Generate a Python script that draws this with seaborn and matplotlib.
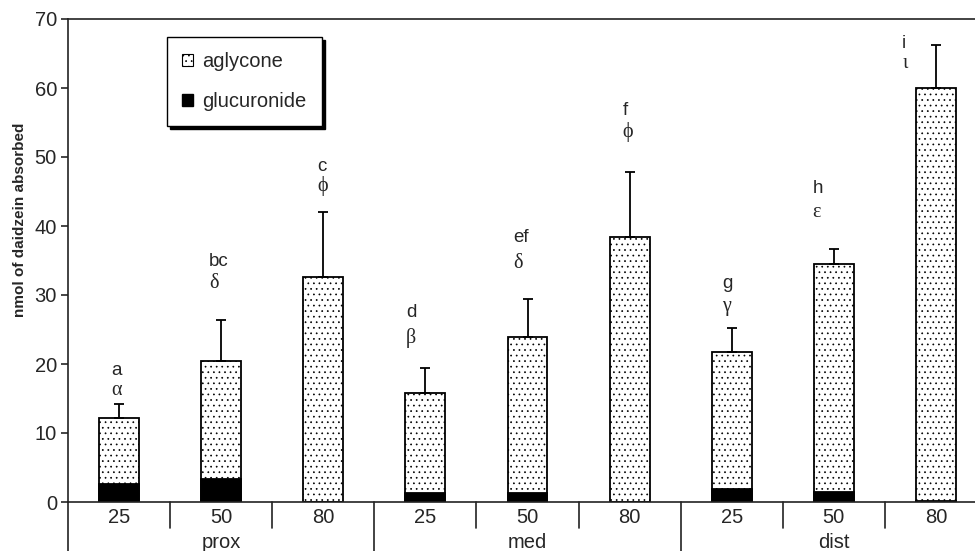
import numpy as np
import pandas as pd
import seaborn as sns
import matplotlib.pyplot as plt
from matplotlib.patches import Patch
from matplotlib.transforms import blended_transform_factory

# values
segments = ["prox", "med", "dist"]
doses = ["25", "50", "80"]
aglycone = [9.6, 17.1, 32.6, 14.5, 22.6, 38.4, 19.8, 33.1, 59.8]
glucuronide = [2.6, 3.3, 0.0, 1.3, 1.3, 0.0, 1.9, 1.4, 0.2]
sd = [2.0, 6.0, 9.4, 3.6, 5.5, 9.4, 3.5, 2.2, 6.2]
letters = ["a", "bc", "c", "d", "ef", "f", "g", "h", "i"]
greek = ["α", "δ", "ϕ", "β", "δ", "ϕ", "γ", "ε", "ι"]
letter_y = [19.1, 34.9, 48.6, 27.4, 38.4, 56.8, 31.7, 45.5, 66.5]
greek_y = [16.2, 31.7, 45.8, 23.8, 34.6, 53.6, 28.3, 41.9, 63.6]
label_dx = [-0.08, -0.12, -0.06, -0.19, -0.14, -0.07, -0.09, -0.21, -0.33]

sns.set_style("ticks")
plt.rcParams['font.family'] = ['Liberation Sans', 'DejaVu Sans']
plt.rcParams['hatch.color'] = '#7a7a7a'
plt.rcParams['hatch.linewidth'] = 0.5

df = pd.DataFrame({
    "bar": [s + " " + d for s in segments for d in doses],
    "aglycone": aglycone,
    "glucuronide": glucuronide,
    "sd": sd,
})
df["total"] = df["aglycone"] + df["glucuronide"]

fig = plt.figure(figsize=(9.75, 5.51), dpi=100)
ax = fig.add_axes([68 / 975, 49 / 551, 919 / 975, 483 / 551])

sns.barplot(data=df, x="bar", y="total", color="white", edgecolor="black",
            linewidth=1.3, width=0.39, hatch="...", errorbar=None,
            saturation=1, ax=ax)
sns.barplot(data=df, x="bar", y="glucuronide", color="black", edgecolor="black",
            linewidth=1.3, width=0.39, errorbar=None, saturation=1, ax=ax)

xs = np.arange(len(df))
ax.errorbar(xs, df["total"], yerr=[np.zeros(len(df)), df["sd"]], fmt="none",
            ecolor="black", elinewidth=1.3, capsize=3.5, capthick=1.3, zorder=1)

# significance letters
for i in range(len(df)):
    ax.text(xs[i] + label_dx[i], letter_y[i], letters[i], fontsize=13.5,
            ha="left", va="center")
    ax.text(xs[i] + label_dx[i], greek_y[i], greek[i], fontsize=14.5,
            family=['Liberation Serif', 'DejaVu Serif'], ha="left", va="center")

## axes
ax.set_xlim(-0.5, 8.5)
ax.set_ylim(0, 70)
ax.set_yticks(range(0, 71, 10))
ax.set_xticks(xs, [d for s in segments for d in doses])
ax.tick_params(axis="x", length=0, pad=4, labelsize=14.5)
ax.tick_params(axis="y", direction="out", length=5, width=1.2, labelsize=14.5, pad=3)
ax.set_xlabel("")
ax.set_ylabel("nmol of daidzein absorbed", fontsize=11, fontweight="bold")
ax.yaxis.set_label_coords(-0.0446, 0.584)
for sp in ax.spines.values():
    sp.set_linewidth(1.2)
    sp.set_color("#222222")

## category separators below the axis
trans = blended_transform_factory(ax.transData, ax.transAxes)
for k in range(len(df) + 1):
    x = k - 0.5
    if k % 3 == 0:
        ax.plot([x, x], [0, -0.2], color="#222222", lw=1.2, transform=trans, clip_on=False)
    else:
        ax.plot([x, x], [0, -0.053], color="#222222", lw=1.2, transform=trans, clip_on=False)
for j, s in enumerate(segments):
    ax.text(3 * j + 1, -0.083, s, fontsize=14.5, ha="center", va="center", transform=trans)

## legend
handles = [Patch(facecolor="white", edgecolor="black", hatch="...", lw=0.8, label="aglycone"),
           Patch(facecolor="black", edgecolor="black", label="glucuronide")]
leg = ax.legend(handles=handles, loc="upper left", bbox_to_anchor=(0.108, 0.963),
                borderaxespad=0, fontsize=14.5, frameon=True, fancybox=False,
                shadow={"color": "black", "alpha": 1}, edgecolor="black",
                handlelength=0.55, handleheight=0.55, handletextpad=0.45,
                labelspacing=1.05, borderpad=0.75)
leg.get_frame().set_linewidth(1.0)

plt.savefig("out.png", dpi=100)
